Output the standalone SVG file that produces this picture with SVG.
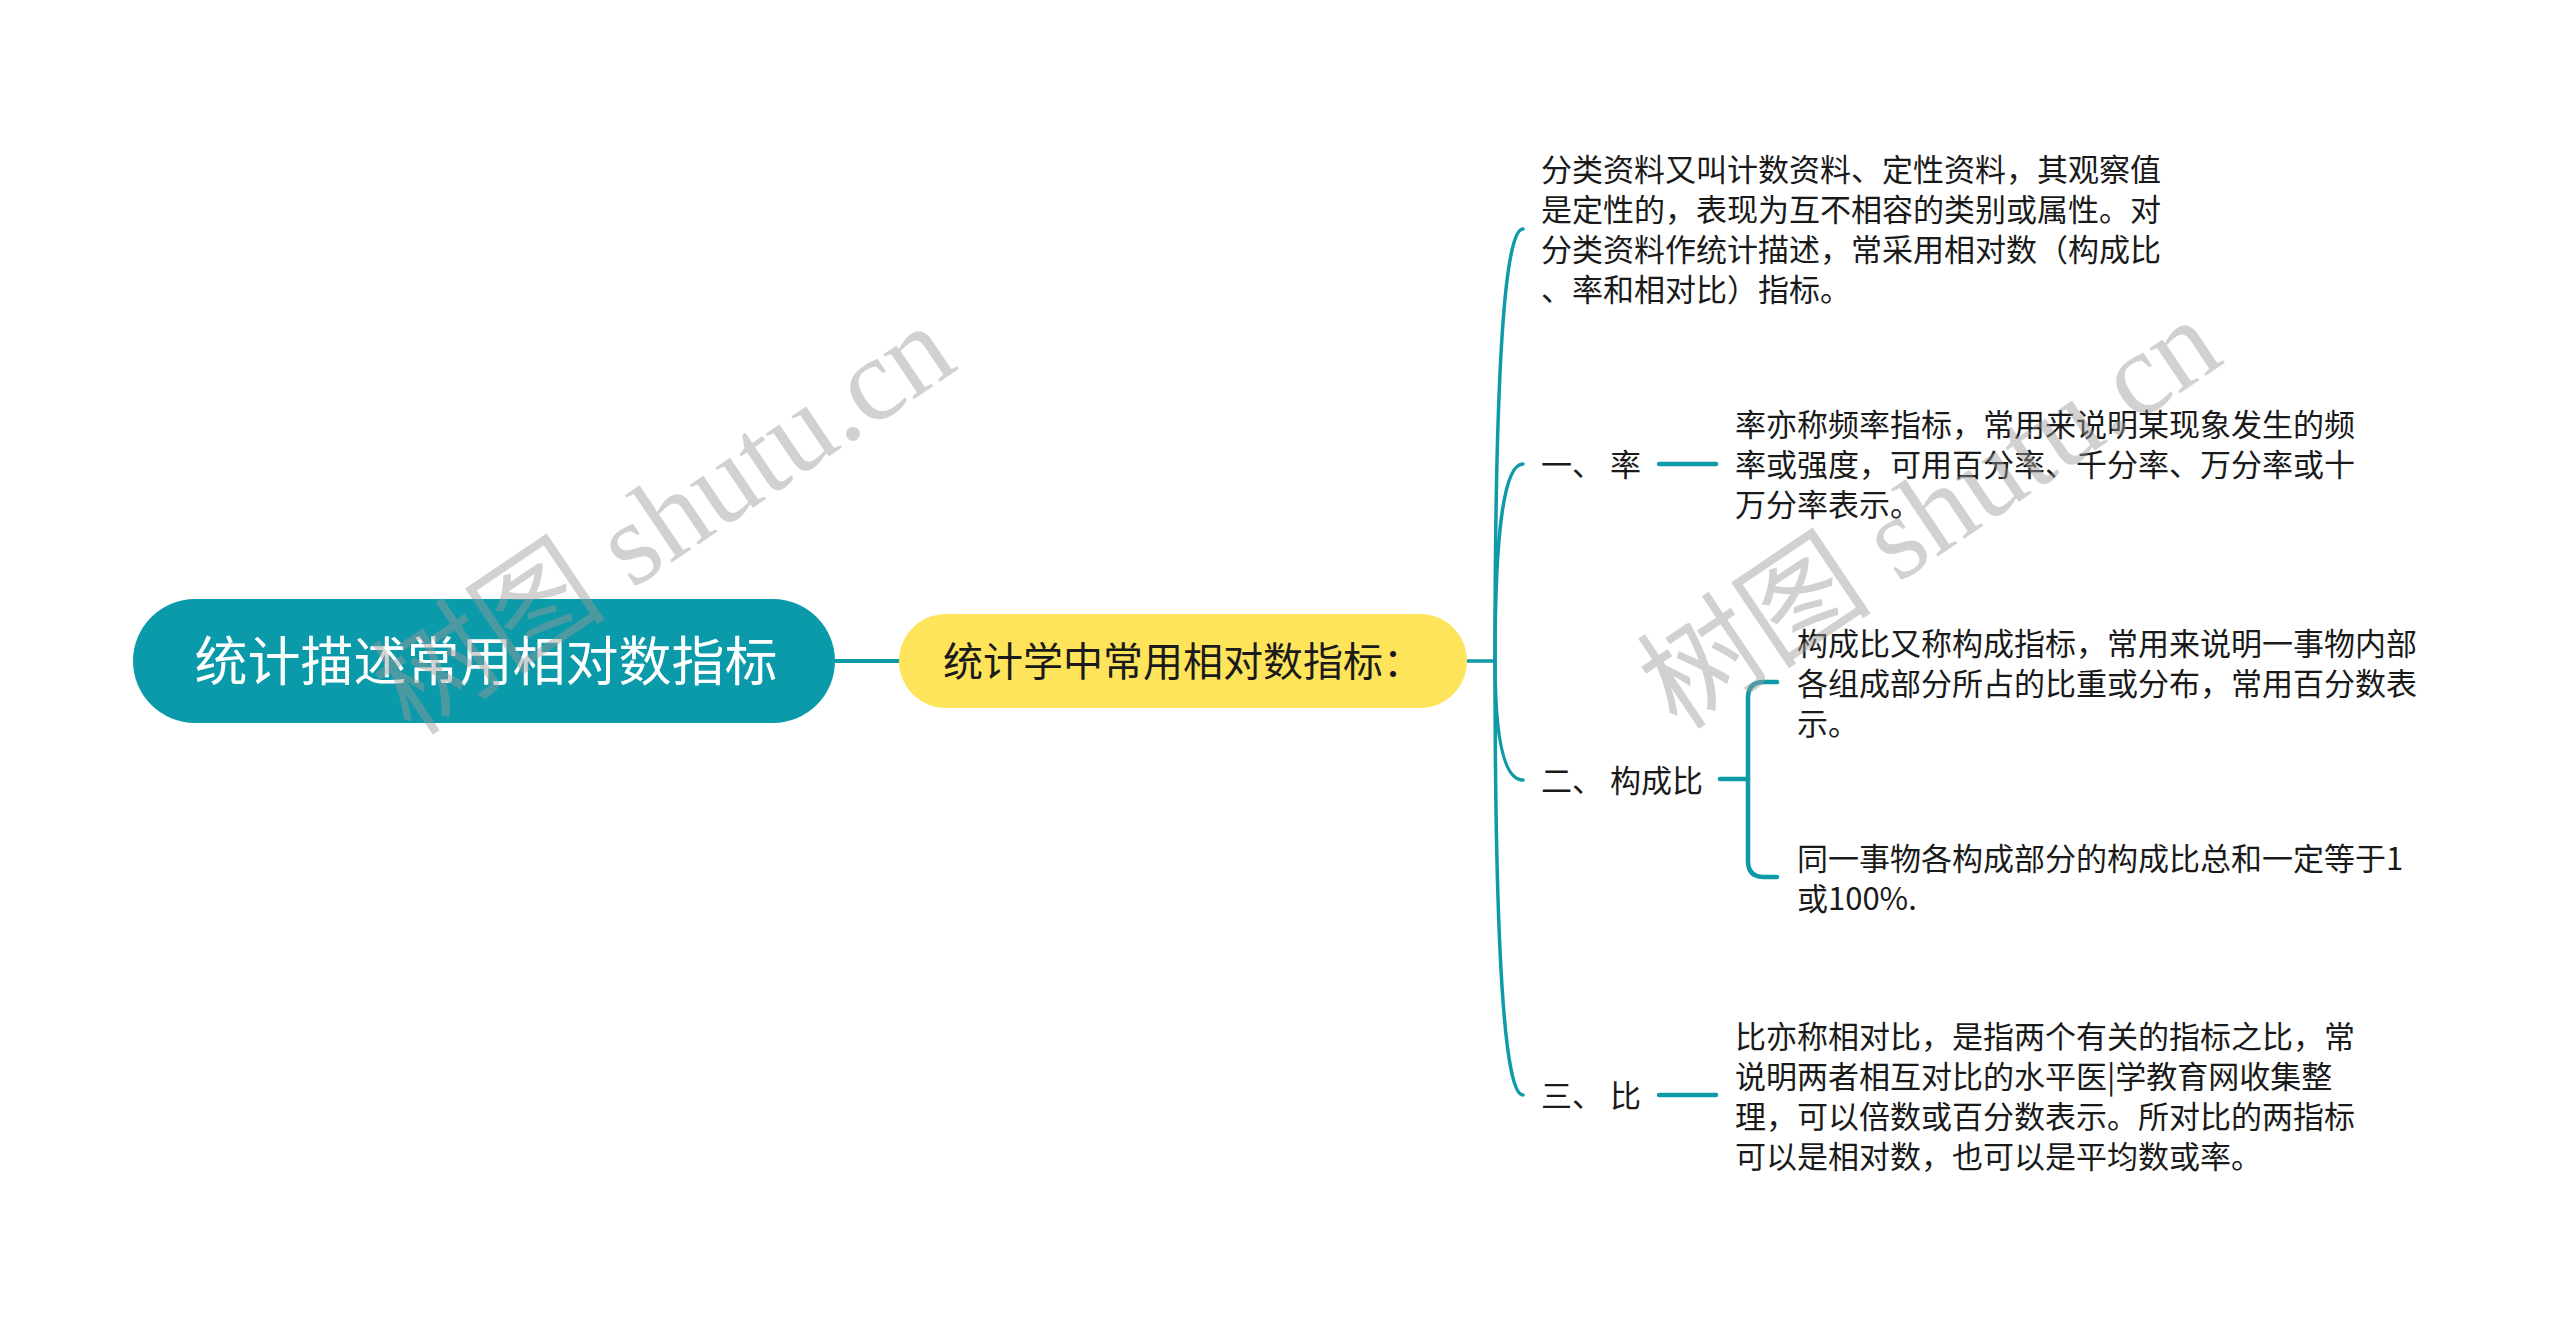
<svg xmlns="http://www.w3.org/2000/svg" width="2560" height="1322" viewBox="0 0 2560 1322">
  <style>
    .t { font-family: "Noto Sans CJK SC", "Noto Sans", sans-serif; fill: #1a1a1a; font-size: 31px; }
    .c { fill: none; stroke: #0e9aa7; stroke-linecap: round; }
    .wm { font-family: "Liberation Serif", "Noto Sans CJK SC", serif; font-size: 118px; fill: #9a9a9a; opacity: 0.45; }
  </style>
  <rect width="2560" height="1322" fill="#ffffff"/>

  <g id="connectors">
    <path class="c" stroke-width="4" d="M835 661 L899 661"/>
    <path class="c" stroke-width="3.5" d="M1467 661 L1495 661"/>
    <path class="c" stroke-width="3.5" d="M1495 661 Q1495 229 1523 229"/>
    <path class="c" stroke-width="3.5" d="M1495 661 Q1495 464 1523 464"/>
    <path class="c" stroke-width="3.5" d="M1495 661 Q1495 780 1523 780"/>
    <path class="c" stroke-width="3.5" d="M1495 661 Q1495 1095 1523 1095"/>
    <path class="c" stroke-width="4.5" d="M1659 464 L1716 464"/>
    <path class="c" stroke-width="4.5" d="M1659 1095 L1716 1095"/>
    <path class="c" stroke-width="4.5" d="M1720 779 L1748 779"/>
    <path class="c" stroke-width="4.5" d="M1777 682 L1764 682 Q1748 682 1748 698 L1748 861 Q1748 877 1764 877 L1777 877"/>
  </g>

  <g id="root">
    <rect x="133" y="599" width="702" height="124" rx="62" fill="#0b9aa9"/>
    <text x="486" y="681" font-family="Noto Sans CJK SC, sans-serif" font-size="53" fill="#ffffff" text-anchor="middle">统计描述常用相对数指标</text>
  </g>

  <g id="main">
    <rect x="899" y="614" width="568" height="94" rx="47" fill="#fde45b"/>
    <text x="943" y="676" font-family="Noto Sans CJK SC, sans-serif" font-size="40" fill="#1a1a1a">统计学中常用相对数指标：</text>
  </g>

  <g id="n-intro">
    <text class="t" x="1541" y="181">分类资料又叫计数资料、定性资料，其观察值</text>
    <text class="t" x="1541" y="221">是定性的，表现为互不相容的类别或属性。对</text>
    <text class="t" x="1541" y="261">分类资料作统计描述，常采用相对数（构成比</text>
    <text class="t" x="1541" y="301">、率和相对比）指标。</text>
  </g>

  <g id="n-rate">
    <text class="t" x="1541" y="476">一、 率</text>
  </g>
  <g id="n-rate-desc">
    <text class="t" x="1735" y="436">率亦称频率指标，常用来说明某现象发生的频</text>
    <text class="t" x="1735" y="476">率或强度，可用百分率、千分率、万分率或十</text>
    <text class="t" x="1735" y="516">万分率表示。</text>
  </g>

  <g id="n-comp">
    <text class="t" x="1541" y="792">二、 构成比</text>
  </g>
  <g id="n-comp-desc1">
    <text class="t" x="1797" y="655">构成比又称构成指标，常用来说明一事物内部</text>
    <text class="t" x="1797" y="695">各组成部分所占的比重或分布，常用百分数表</text>
    <text class="t" x="1797" y="735">示。</text>
  </g>
  <g id="n-comp-desc2">
    <text class="t" x="1797" y="870">同一事物各构成部分的构成比总和一定等于1</text>
    <text class="t" x="1797" y="910">或100%.</text>
  </g>

  <g id="n-ratio">
    <text class="t" x="1541" y="1107">三、 比</text>
  </g>
  <g id="n-ratio-desc">
    <text class="t" x="1735" y="1048">比亦称相对比，是指两个有关的指标之比，常</text>
    <text class="t" x="1735" y="1088">说明两者相互对比的水平医|学教育网收集整</text>
    <text class="t" x="1735" y="1128">理，可以倍数或百分数表示。所对比的两指标</text>
    <text class="t" x="1735" y="1168">可以是相对数，也可以是平均数或率。</text>
  </g>

  <g id="watermarks">
    <text class="wm" x="664" y="520" text-anchor="middle" dominant-baseline="central" transform="rotate(-34 664 520)">树图 shutu.cn</text>
    <text class="wm" x="1930" y="514" text-anchor="middle" dominant-baseline="central" transform="rotate(-34 1930 514)">树图 shutu.cn</text>
  </g>
</svg>
